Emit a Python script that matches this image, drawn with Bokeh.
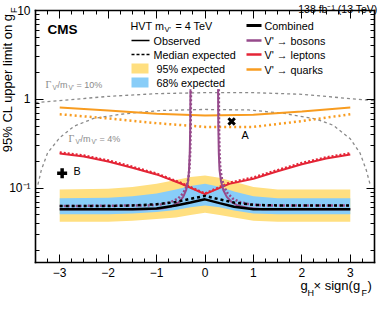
import numpy as np
from bokeh.plotting import figure
from bokeh.models import Range1d, LinearAxis, LogAxis, FixedTicker, Label, CustomJSTickFormatter
from bokeh.embed import file_html
from bokeh.resources import INLINE

# ---------------- data ----------------
band_x = [-3, -2, -1.5, -1, -0.6, -0.3, 0, 0.3, 0.6, 1, 1.5, 2, 3]
y95_hi = [0.097, 0.099, 0.103, 0.112, 0.124, 0.134, 0.139, 0.131, 0.118, 0.103, 0.097, 0.097, 0.097]
y68_hi = [0.077, 0.078, 0.081, 0.087, 0.097, 0.106, 0.112, 0.104, 0.092, 0.081, 0.077, 0.077, 0.077]
y68_lo = [0.051, 0.051, 0.052, 0.054, 0.057, 0.061, 0.064, 0.061, 0.056, 0.052, 0.051, 0.051, 0.051]
y95_lo = [0.042, 0.042, 0.043, 0.045, 0.047, 0.050, 0.053, 0.050, 0.047, 0.043, 0.042, 0.042, 0.042]
comb_exp = [0.063, 0.063, 0.064, 0.066, 0.070, 0.076, 0.082, 0.075, 0.069, 0.065, 0.064, 0.064, 0.064]
comb_obs = [0.058, 0.058, 0.058, 0.059, 0.064, 0.069, 0.075, 0.068, 0.062, 0.058, 0.058, 0.058, 0.058]

lep_x = [-3, -2.5, -2, -1.5, -1, -0.5, 0, 0.5, 1, 1.5, 2, 2.5, 3]
lep_obs = [0.246, 0.228, 0.200, 0.170, 0.143, 0.113, 0.086, 0.112, 0.128, 0.155, 0.186, 0.216, 0.240]
lep_exp = [0.252, 0.233, 0.205, 0.174, 0.146, 0.115, 0.087, 0.115, 0.132, 0.160, 0.192, 0.222, 0.247]

qrk_x = [-3, -2, -1, 0, 1, 2, 3]
qrk_obs = [0.81, 0.75, 0.69, 0.66, 0.67, 0.73, 0.81]
qrk_exp = [0.68, 0.61, 0.54, 0.49, 0.49, 0.57, 0.68]

bos_obs_lx = [-3, -1.2, -0.9, -0.7, -0.55, -0.45, -0.39, -0.35, -0.33, -0.315, -0.305, -0.30]
bos_obs_ly = [0.058, 0.058, 0.059, 0.062, 0.069, 0.080, 0.095, 0.12, 0.16, 0.25, 0.5, 1.3]
bos_obs_rx = [0.27, 0.275, 0.285, 0.30, 0.33, 0.38, 0.45, 0.55, 0.70, 0.90, 1.2, 3]
bos_obs_ry = [1.3, 0.5, 0.25, 0.16, 0.12, 0.095, 0.080, 0.070, 0.063, 0.060, 0.058, 0.058]
bos_exp_lx = [-3, -1.2, -0.9, -0.7, -0.55, -0.45, -0.38, -0.34, -0.32, -0.305, -0.295, -0.29]
bos_exp_ly = [0.063, 0.064, 0.066, 0.070, 0.077, 0.088, 0.104, 0.13, 0.17, 0.26, 0.5, 1.3]
bos_exp_rx = [0.285, 0.29, 0.30, 0.315, 0.345, 0.395, 0.465, 0.565, 0.715, 0.915, 1.2, 3]
bos_exp_ry = [1.3, 0.5, 0.26, 0.17, 0.13, 0.104, 0.088, 0.077, 0.070, 0.066, 0.064, 0.064]

w10_x = [-3.5, -3, -2, -1, 0, 1, 2, 3, 3.5]
w10_y = [0.92, 0.97, 1.08, 1.16, 1.19, 1.19, 1.14, 1.02, 0.97]
w4_x = [-3.45, -3.38, -3.25, -3.0, -2.7, -2.3, -1.65, -0.9, 0, 0.9, 1.6, 2.3, 2.65, 3.0, 3.2, 3.33, 3.41]
w4_y = [0.11, 0.16, 0.25, 0.37, 0.50, 0.61, 0.69, 0.75, 0.77, 0.76, 0.70, 0.60, 0.51, 0.36, 0.25, 0.16, 0.11]

ptA = (0.55, 0.565)
ptB = (-2.95, 0.147)

x_ticks = [-3, -2, -1, 0, 1, 2, 3]
y_ticks = [0.1, 1, 10]

# ---------------- styling ----------------
YEL = "#FFDF80"
BLU = "#88CDF8"
ORA = "#F89C20"
RED = "#E42536"
PUR = "#964A8B"
GRY = "#8A8A8A"
FONT = "Liberation Sans"

W, H = 380, 300
X0, X1 = -3.5, 3.5            # axis box range
Y0, Y1 = 0.0146, 10.0
PL, PR, PT, PB = 43, 382, 18, 270  # axis box in page pixels
CL, CT = 8, 8                       # canvas origin in page pixels

def X(px):
    return X0 + (px - PL) / (PR - PL) * (X1 - X0)

def Y(py):
    l0, l1 = np.log10(Y0), np.log10(Y1)
    return 10 ** (l1 - (py - PT) / (PB - PT) * (l1 - l0))

# the frame covers the whole canvas; the axes are pinned to the box edges
p = figure(width=W, height=H, x_range=Range1d(X(CL), X(CL + W)), y_range=Range1d(Y(CT + H), Y(CT)),
           y_axis_type="log", output_backend="svg", toolbar_location=None,
           min_border=0, min_border_left=0, min_border_right=0, min_border_top=0, min_border_bottom=0)
p.grid.visible = False
p.outline_line_color = None
p.background_fill_color = "white"
p.border_fill_color = "white"

# bands
p.varea(x=band_x, y1=y95_lo, y2=y95_hi, fill_color=YEL)
p.varea(x=band_x, y1=y68_lo, y2=y68_hi, fill_color=BLU)

# width curves
p.line(w10_x, w10_y, line_color=GRY, line_dash="3 3", line_width=1.3)
p.line(w4_x, w4_y, line_color=GRY, line_dash="3 3", line_width=1.3)

# quarks
p.line(qrk_x, qrk_obs, line_color=ORA, line_width=2)
p.line(qrk_x, qrk_exp, line_color=ORA, line_width=2.5, line_dash="2 3")
# leptons
p.line(lep_x, lep_obs, line_color=RED, line_width=2)
p.line(lep_x, lep_exp, line_color=RED, line_width=2.5, line_dash="2 2")
# bosons
p.line(bos_obs_lx, bos_obs_ly, line_color=PUR, line_width=2)
p.line(bos_obs_rx, bos_obs_ry, line_color=PUR, line_width=2)
p.line(bos_exp_lx, bos_exp_ly, line_color=PUR, line_width=2.5, line_dash="2 2")
p.line(bos_exp_rx, bos_exp_ry, line_color=PUR, line_width=2.5, line_dash="2 2")
# combined
p.line(band_x, comb_obs, line_color="black", line_width=2.5)
p.line(band_x, comb_exp, line_color="black", line_width=2.5, line_dash="3 3")

# benchmark markers
p.scatter([ptA[0]], [ptA[1]], marker="x", size=9, line_width=3, line_color="black")
p.scatter([ptB[0]], [ptB[1]], marker="cross", size=10, line_width=3.5, line_color="black")

# axes
minor_x = [v for v in np.arange(-3.5, 3.51, 0.25) if abs(v - round(v)) > 1e-6]
minor_y = [m * 10.0 ** e for e in (-2, -1, 0) for m in range(2, 10)]
xfmt = CustomJSTickFormatter(code="return tick < 0 ? '\u2212' + Math.abs(tick) : String(tick);")
yfmt = CustomJSTickFormatter(code="if (tick > 5) {return '10';} else if (tick > 0.5) {return '1';} return '10\u207B\u00B9';")
blank = CustomJSTickFormatter(code="return '';")

xb = p.xaxis[0]
xb.ticker = FixedTicker(ticks=x_ticks, minor_ticks=minor_x)
xb.formatter = xfmt
xb.fixed_location = Y0
xb.bounds = (X0, X1)
yl = p.yaxis[0]
yl.ticker = FixedTicker(ticks=y_ticks, minor_ticks=minor_y)
yl.formatter = yfmt
yl.fixed_location = X0
yl.bounds = (Y0, Y1)

xt = LinearAxis(ticker=FixedTicker(ticks=x_ticks, minor_ticks=minor_x), formatter=blank,
                fixed_location=Y1, bounds=(X0, X1))
yr = LogAxis(ticker=FixedTicker(ticks=y_ticks, minor_ticks=minor_y), formatter=blank,
             fixed_location=X1, bounds=(Y0, Y1))
p.add_layout(xt, "above")
p.add_layout(yr, "right")

for ax in (xb, yl, xt, yr):
    ax.major_tick_in = 8
    ax.major_tick_out = 0
    ax.minor_tick_in = 4
    ax.minor_tick_out = 0
    ax.axis_line_width = 1.6
    ax.axis_line_cap = "square"
    ax.major_tick_line_width = 1
    ax.minor_tick_line_width = 1
    ax.major_label_text_font = FONT
    ax.major_label_text_font_size = "12px"
    ax.major_label_text_color = "black"
for ax in (xt, yr):
    ax.major_label_text_font_size = "0px"
    ax.major_label_standoff = 0
xb.major_label_standoff = 5
yl.major_label_standoff = 5

def txt(s, px, py, size, align="left", color="black", font=FONT, style="normal", angle=0.0,
        baseline="middle"):
    p.add_layout(Label(x=X(px), y=Y(py), text=s, text_font_size=f"{size}px", text_align=align,
                       text_baseline=baseline, text_color=color, text_font=font,
                       text_font_style=style, angle=angle))

# titles
txt("138 fb\u207B\u00B9 (13 TeV)", 385, 16.5, 10.5, align="right", baseline="alphabetic")
txt("CMS", 55, 37, 13.5, style="bold")
# x-axis title
txt("g", 308, 293, 13)
txt("H", 315, 300, 9)
txt("\u00D7 sign(g", 321, 293, 13)
txt("F", 369, 300, 9)
txt(")", 375, 293, 13)
# y-axis title (rotated)
txt("95% CL upper limit on g", 15, 21, 13, align="right", angle=np.pi / 2)
txt("F", 21, 15, 9, align="right", angle=np.pi / 2)

# legend (left column)
txt("HVT m", 138, 33, 10.8)
txt("V'", 172, 37, 7.5)
txt("= 4 TeV", 183, 33, 10.8)
p.line([X(139), X(157)], [Y(48), Y(48)], line_color="black", line_width=1.5)
txt("Observed", 161, 48, 10.8)
p.line([X(139), X(157)], [Y(62), Y(62)], line_color="black", line_width=1.5, line_dash="3 2")
txt("Median expected", 161, 62, 10.8)
p.quad(left=[X(139)], right=[X(156)], top=[Y(71)], bottom=[Y(81)], fill_color=YEL, line_color=None)
txt("95% expected", 164, 76, 10.8)
p.quad(left=[X(139)], right=[X(156)], top=[Y(85)], bottom=[Y(95)], fill_color=BLU, line_color=None)
txt("68% expected", 164, 90, 10.8)
# legend (right column)
for py, col, lab, lw in ((33, "black", "Combined", 3), (48, PUR, "V' \u2192 bosons", 2.5),
                         (62, RED, "V' \u2192 leptons", 2.5), (77, ORA, "V' \u2192 quarks", 2.5)):
    p.line([X(254), X(269)], [Y(py), Y(py)], line_color=col, line_width=lw)
    txt(lab, 272, py, 10.8)

# width labels
def gamma_label(px, py, pct):
    txt("\u0393", px, py, 10, color=GRY, font="Liberation Serif")
    txt("V'", px + 7, py + 3, 6.5, color=GRY)
    txt("/m", px + 12, py, 9, color=GRY)
    txt("V'", px + 23, py + 3, 6.5, color=GRY)
    txt("= " + pct, px + 31, py, 9, color=GRY)

gamma_label(53, 92, "10%")
gamma_label(76, 146, "4%")

# benchmark labels
txt("A", 249, 142, 10.8)
txt("B", 81, 178, 10.8)

open("out.html", "w").write(file_html(p, INLINE))
